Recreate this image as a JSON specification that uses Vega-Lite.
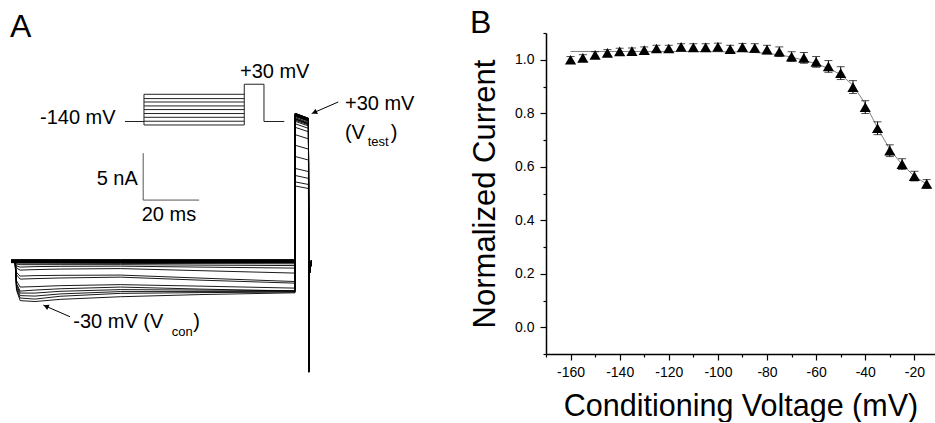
{
  "$schema": "https://vega.github.io/schema/vega-lite/v6.json",
  "background": "white",
  "padding": {"left": 0, "top": 7, "right": 0, "bottom": 0},
  "spacing": 216,
  "bounds": "flush",
  "config": {
    "view": {"stroke": null},
    "font": "Liberation Sans",
    "axis": {"grid": false, "domainColor": "black", "tickColor": "black", "labelColor": "black", "titleColor": "black", "titleFontWeight": "normal", "labelFont": "Liberation Sans", "titleFont": "Liberation Sans"}
  },
  "datasets": {
    "traces": [
      {"v": -160, "t": [0,1.4,1.9,3.2,8.5,17.5,39,67.5,101.5,101.55,106.3,106.45,106.55,107.4], "i": [0.25,0.25,0.25,0.25,0.25,0.25,0.25,0.25,0.25,15.11,14.61,-11.72,-1.4,0.2]},
      {"v": -155, "t": [0,1.4,1.9,3.2,8.5,17.5,39,67.5,101.5,101.55,106.3,106.45,106.55,107.4], "i": [0.22,0.22,0.22,0.22,0.22,0.22,0.22,0.22,0.22,15.22,14.71,-11.72,-1.4,0.2]},
      {"v": -150, "t": [0,1.4,1.9,3.2,8.5,17.5,39,67.5,101.5,101.55,106.3,106.45,106.55,107.4], "i": [0.2,0.2,0.2,0.2,0.2,0.2,0.2,0.2,0.2,15.38,14.87,-11.72,-1.4,0.2]},
      {"v": -145, "t": [0,1.4,1.9,3.2,8.5,17.5,39,67.5,101.5,101.55,106.3,106.45,106.55,107.4], "i": [0.18,0.18,0.18,0.18,0.18,0.18,0.18,0.18,0.18,15.5,14.99,-11.72,-1.4,0.2]},
      {"v": -140, "t": [0,1.4,1.9,3.2,8.5,17.5,39,67.5,101.5,101.55,106.3,106.45,106.55,107.4], "i": [0.15,0.15,0.15,0.15,0.15,0.15,0.15,0.15,0.15,15.58,15.06,-11.72,-1.4,0.2]},
      {"v": -135, "t": [0,1.4,1.9,3.2,8.5,17.5,39,67.5,101.5,101.55,106.3,106.45,106.55,107.4], "i": [0.13,0.13,0.13,0.13,0.13,0.13,0.13,0.13,0.13,15.59,15.08,-11.72,-1.4,0.2]},
      {"v": -130, "t": [0,1.4,1.9,3.2,8.5,17.5,39,67.5,101.5,101.55,106.3,106.45,106.55,107.4], "i": [0.1,0.1,0.1,0.1,0.1,0.1,0.1,0.1,0.1,15.65,15.14,-11.72,-1.4,0.2]},
      {"v": -125, "t": [0,1.4,1.9,3.2,8.5,17.5,39,67.5,101.5,101.55,106.3,106.45,106.55,107.4], "i": [0.08,0.08,0.08,0.08,0.08,0.08,0.08,0.08,0.08,15.74,15.22,-11.72,-1.4,0.2]},
      {"v": -120, "t": [0,1.4,1.9,3.2,8.5,17.5,39,67.5,101.5,101.55,106.3,106.45,106.55,107.4], "i": [0.06,0.06,0.06,0.06,0.06,0.06,0.06,0.06,0.06,15.74,15.22,-11.72,-1.4,0.2]},
      {"v": -115, "t": [0,1.4,1.9,3.2,8.5,17.5,39,67.5,101.5,101.55,106.3,106.45,106.55,107.4], "i": [0.05,0.05,0.05,0.05,0.05,0.05,0.05,0.05,0.05,15.84,15.31,-11.72,-1.4,0.2]},
      {"v": -110, "t": [0,1.4,1.9,3.2,8.5,17.5,39,67.5,101.5,101.55,106.3,106.45,106.55,107.4], "i": [0.03,0.03,0.03,0.03,0.03,0.03,0.03,0.03,0.03,15.8,15.28,-11.72,-1.4,0.2]},
      {"v": -105, "t": [0,1.4,1.9,3.2,8.5,17.5,39,67.5,101.5,101.55,106.3,106.45,106.55,107.4], "i": [0.02,0.02,0.02,0.02,0.02,0.02,0.02,0.02,0.02,15.8,15.28,-11.72,-1.4,0.2]},
      {"v": -100, "t": [0,1.4,1.9,3.2,8.5,17.5,39,67.5,101.5,101.55,106.3,106.45,106.55,107.4], "i": [0,0,0,0,0,0,0,0,0,15.84,15.31,-11.72,-1.4,0.2]},
      {"v": -95, "t": [0,1.4,1.9,3.2,8.5,17.5,39,67.5,101.5,101.55,106.3,106.45,106.55,107.4], "i": [0,0,0,0,0,0,0,0,0,15.71,15.19,-11.72,-1.4,0.2]},
      {"v": -90, "t": [0,1.4,1.9,3.2,8.5,17.5,39,67.5,101.5,101.55,106.3,106.45,106.55,107.4], "i": [-0.02,-0.02,-0.02,-0.02,-0.02,-0.02,-0.02,-0.02,-0.02,15.82,15.3,-11.72,-1.4,0.2]},
      {"v": -85, "t": [0,1.4,1.9,3.2,8.5,17.5,39,67.5,101.5,101.55,106.3,106.45,106.55,107.4], "i": [-0.03,-0.03,-0.03,-0.03,-0.03,-0.03,-0.03,-0.03,-0.03,15.77,15.25,-11.72,-1.4,0.2]},
      {"v": -80, "t": [0,1.4,1.9,3.2,8.5,17.5,39,67.5,101.5,101.55,106.3,106.45,106.55,107.4], "i": [-0.05,-0.05,-0.05,-0.05,-0.05,-0.05,-0.05,-0.05,-0.05,15.68,15.16,-11.72,-1.4,0.2]},
      {"v": -75, "t": [0,1.4,1.9,3.2,8.5,17.5,39,67.5,101.5,101.55,106.3,106.45,106.55,107.4], "i": [-0.07,-0.07,-0.07,-0.07,-0.07,-0.07,-0.07,-0.07,-0.07,15.56,15.05,-11.72,-1.4,0.2]},
      {"v": -70, "t": [0,1.4,1.9,3.2,8.5,17.5,39,67.5,101.5,101.55,106.3,106.45,106.55,107.4], "i": [0,0,-0.1,-0.12,-0.12,-0.13,-0.15,-0.17,-0.19,15.29,14.79,-11.72,-1.4,0.2]},
      {"v": -65, "t": [0,1.4,1.9,3.2,8.5,17.5,39,67.5,101.5,101.55,106.3,106.45,106.55,107.4], "i": [0,0,-0.22,-0.28,-0.28,-0.28,-0.28,-0.33,-0.38,15.22,14.71,-11.72,-1.4,0.2]},
      {"v": -60, "t": [0,1.4,1.9,3.2,8.5,17.5,39,67.5,101.5,101.55,106.3,106.45,106.55,107.4], "i": [0,0,-0.42,-0.54,-0.49,-0.46,-0.44,-0.54,-0.65,14.99,14.49,-11.72,-1.4,0.2]},
      {"v": -55, "t": [0,1.4,1.9,3.2,8.5,17.5,39,67.5,101.5,101.55,106.3,106.45,106.55,107.4], "i": [0,0,-0.65,-0.86,-0.81,-0.75,-0.7,-0.92,-1.18,14.73,14.24,-11.72,-1.4,0.2]},
      {"v": -50, "t": [0,1.4,1.9,3.2,8.5,17.5,39,67.5,101.5,101.55,106.3,106.45,106.55,107.4], "i": [0,0,-1.1,-1.5,-1.45,-1.42,-1.39,-1.71,-2.08,14.35,13.88,-11.72,-1.4,0.2]},
      {"v": -45, "t": [0,1.4,1.9,3.2,8.5,17.5,39,67.5,101.5,101.55,106.3,106.45,106.55,107.4], "i": [0,0,-1.35,-1.82,-1.77,-1.7,-1.61,-1.93,-2.25,13.57,13.12,-11.72,-1.4,0.2]},
      {"v": -40, "t": [0,1.4,1.9,3.2,8.5,17.5,39,67.5,101.5,101.55,106.3,106.45,106.55,107.4], "i": [0,0,-2.0,-2.67,-2.62,-2.52,-2.41,-2.57,-2.78,12.44,12.03,-11.72,-1.4,0.2]},
      {"v": -35, "t": [0,1.4,1.9,3.2,8.5,17.5,39,67.5,101.5,101.55,106.3,106.45,106.55,107.4], "i": [0,0,-2.3,-3.1,-2.99,-2.85,-2.67,-2.88,-3.1,11.24,10.87,-11.72,-1.4,0.2]},
      {"v": -30, "t": [0,1.4,1.9,3.2,8.5,17.5,39,67.5,101.5,101.55,106.3,106.45,106.55,107.4], "i": [0,0,-3.0,-4.11,-4.21,-3.98,-3.7,-3.47,-3.28,9.97,9.64,-11.72,-1.4,0.2]},
      {"v": -25, "t": [0,1.4,1.9,3.2,8.5,17.5,39,67.5,101.5,101.55,106.3,106.45,106.55,107.4], "i": [0,0,-2.85,-3.84,-3.95,-3.65,-3.34,-3.26,-3.2,9.22,8.91,-11.72,-1.4,0.2]},
      {"v": -20, "t": [0,1.4,1.9,3.2,8.5,17.5,39,67.5,101.5,101.55,106.3,106.45,106.55,107.4], "i": [0,0,-2.65,-3.58,-3.63,-3.4,-3.15,-3.15,-3.15,8.54,8.26,-11.72,-1.4,0.2]},
      {"v": -15, "t": [0,1.4,1.9,3.2,8.5,17.5,39,67.5,101.5,101.55,106.3,106.45,106.55,107.4], "i": [0,0,-2.45,-3.31,-3.31,-3.12,-2.94,-2.99,-3.04,8.1,7.83,-11.72,-1.4,0.2]}
    ],
    "protocol": [
      {"x": 40.69, "x2": 47.48, "y": 14.97, "y2": 14.97},
      {"x": 47.48, "x2": 83.34, "y": 17.87, "y2": 17.87},
      {"x": 47.48, "x2": 83.34, "y": 17.41, "y2": 17.41},
      {"x": 47.48, "x2": 83.34, "y": 17.05, "y2": 17.05},
      {"x": 47.48, "x2": 83.34, "y": 16.63, "y2": 16.63},
      {"x": 47.48, "x2": 83.34, "y": 16.24, "y2": 16.24},
      {"x": 47.48, "x2": 83.34, "y": 15.82, "y2": 15.82},
      {"x": 47.48, "x2": 83.34, "y": 15.42, "y2": 15.42},
      {"x": 47.48, "x2": 83.34, "y": 15.0, "y2": 15.0},
      {"x": 47.48, "x2": 83.34, "y": 14.6, "y2": 14.6},
      {"x": 47.48, "x2": 47.48, "y": 14.6, "y2": 17.87},
      {"x": 83.34, "x2": 83.34, "y": 14.6, "y2": 18.94},
      {"x": 83.34, "x2": 90.39, "y": 18.94, "y2": 18.94},
      {"x": 90.39, "x2": 90.39, "y": 18.94, "y2": 14.97},
      {"x": 90.39, "x2": 97.64, "y": 14.97, "y2": 14.97}
    ],
    "scalebar": [
      {"x": 47.2, "x2": 47.2, "y": 6.6, "y2": 11.6},
      {"x": 47.2, "x2": 67.2, "y": 6.6, "y2": 6.6}
    ],
    "arrows": [
      {"name": "con", "x": 21.03, "y": -5.83, "x2": 11.48, "y2": -4.59},
      {"name": "test", "x": 116.95, "y": 17.05, "x2": 107.44, "y2": 15.82}
    ],
    "heads": [
      {"name": "con", "x": 12.46, "y": -4.72},
      {"name": "test", "x": 108.42, "y": 15.94}
    ],
    "labelsA": [
      {"x": 10.3, "y": 14.68, "label": "-140 mV"},
      {"x": 81.8, "y": 19.65, "label": "+30 mV"},
      {"x": 30.57, "y": 8.19, "label": "5 nA"},
      {"x": 46.66, "y": 4.35, "label": "20 ms"},
      {"x": 119.35, "y": 16.24, "label": "+30 mV"},
      {"x": 119.35, "y": 13.13, "label": "(V"},
      {"x": 135.69, "y": 13.13, "label": ")"},
      {"x": 22.2, "y": -7.07, "label": "-30 mV (V"},
      {"x": 65.1, "y": -7.07, "label": ")"}
    ],
    "subsA": [
      {"x": 127.46, "y": 12.34, "label": "test"},
      {"x": 57.39, "y": -7.83, "label": "con"}
    ],
    "panelA": [{"x": -0.43, "y": 23.94, "label": "A"}],
    "points": [
      {"v": -160, "n": 1.0, "e": 0.012},
      {"v": -155, "n": 1.007, "e": 0.012},
      {"v": -150, "n": 1.018, "e": 0.012},
      {"v": -145, "n": 1.026, "e": 0.012},
      {"v": -140, "n": 1.031, "e": 0.012},
      {"v": -135, "n": 1.032, "e": 0.012},
      {"v": -130, "n": 1.036, "e": 0.012},
      {"v": -125, "n": 1.042, "e": 0.012},
      {"v": -120, "n": 1.042, "e": 0.012},
      {"v": -115, "n": 1.048, "e": 0.012},
      {"v": -110, "n": 1.046, "e": 0.014},
      {"v": -105, "n": 1.046, "e": 0.014},
      {"v": -100, "n": 1.048, "e": 0.014},
      {"v": -95, "n": 1.04, "e": 0.014},
      {"v": -90, "n": 1.047, "e": 0.014},
      {"v": -85, "n": 1.044, "e": 0.016},
      {"v": -80, "n": 1.038, "e": 0.016},
      {"v": -75, "n": 1.03, "e": 0.018},
      {"v": -70, "n": 1.012, "e": 0.018},
      {"v": -65, "n": 1.007, "e": 0.02},
      {"v": -60, "n": 0.992, "e": 0.02},
      {"v": -55, "n": 0.975, "e": 0.022},
      {"v": -50, "n": 0.95, "e": 0.024},
      {"v": -45, "n": 0.898, "e": 0.024},
      {"v": -40, "n": 0.823, "e": 0.024},
      {"v": -35, "n": 0.744, "e": 0.024},
      {"v": -30, "n": 0.66, "e": 0.022},
      {"v": -25, "n": 0.61, "e": 0.02},
      {"v": -20, "n": 0.565, "e": 0.018},
      {"v": -15, "n": 0.536, "e": 0.016}
    ],
    "fit": [
      {"v": -160, "n": 1.031}, {"v": -150, "n": 1.031}, {"v": -140, "n": 1.031},
      {"v": -130, "n": 1.031}, {"v": -120, "n": 1.031}, {"v": -110, "n": 1.031},
      {"v": -100, "n": 1.03}, {"v": -90, "n": 1.029}, {"v": -85, "n": 1.027},
      {"v": -80, "n": 1.024}, {"v": -75, "n": 1.018}, {"v": -70, "n": 1.01},
      {"v": -65, "n": 0.998}, {"v": -60, "n": 0.985}, {"v": -55, "n": 0.968},
      {"v": -50, "n": 0.945}, {"v": -45, "n": 0.905}, {"v": -40, "n": 0.835},
      {"v": -35, "n": 0.745}, {"v": -30, "n": 0.665}, {"v": -25, "n": 0.608},
      {"v": -20, "n": 0.565}, {"v": -15, "n": 0.535}
    ],
    "panelB": [{"v": -200.95, "n": 1.099, "label": "B"}]
  },
  "hconcat": [
    {
      "width": 330,
      "height": 321,
      "encoding": {
        "x": {"field": "x", "type": "quantitative", "scale": {"domain": [-4, 114], "nice": false, "zero": false}, "axis": null},
        "y": {"field": "y", "type": "quantitative", "scale": {"domain": [-9.8, 24.4], "nice": false, "zero": false}, "axis": null}
      },
      "layer": [
        {
          "data": {"name": "traces"},
          "transform": [{"flatten": ["t", "i"], "as": ["x", "y"]}],
          "mark": {"type": "line", "color": "black", "strokeWidth": 0.9},
          "encoding": {"detail": {"field": "v", "type": "nominal"}}
        },
        {
          "data": {"name": "protocol"},
          "mark": {"type": "rule", "color": "#222", "strokeWidth": 1},
          "encoding": {"x2": {"field": "x2"}, "y2": {"field": "y2"}}
        },
        {
          "data": {"name": "scalebar"},
          "mark": {"type": "rule", "color": "#555", "strokeWidth": 1},
          "encoding": {"x2": {"field": "x2"}, "y2": {"field": "y2"}}
        },
        {
          "data": {"name": "arrows"},
          "mark": {"type": "rule", "color": "black", "strokeWidth": 1},
          "encoding": {"x2": {"field": "x2"}, "y2": {"field": "y2"}}
        },
        {
          "data": {"name": "heads"},
          "transform": [{"filter": "datum.name == 'con'"}],
          "mark": {"type": "point", "shape": "triangle-up", "filled": true, "color": "black", "opacity": 1, "size": 35, "angle": 294}
        },
        {
          "data": {"name": "heads"},
          "transform": [{"filter": "datum.name == 'test'"}],
          "mark": {"type": "point", "shape": "triangle-up", "filled": true, "color": "black", "opacity": 1, "size": 35, "angle": 246}
        },
        {
          "data": {"name": "labelsA"},
          "mark": {"type": "text", "align": "left", "baseline": "alphabetic", "fontSize": 20, "color": "black"},
          "encoding": {"text": {"field": "label"}}
        },
        {
          "data": {"name": "subsA"},
          "mark": {"type": "text", "align": "left", "baseline": "alphabetic", "fontSize": 13, "color": "black"},
          "encoding": {"text": {"field": "label"}}
        },
        {
          "data": {"name": "panelA"},
          "mark": {"type": "text", "align": "left", "baseline": "alphabetic", "fontSize": 32, "color": "black"},
          "encoding": {"text": {"field": "label"}}
        }
      ]
    },
    {
      "width": 389,
      "height": 321,
      "encoding": {
        "x": {
          "field": "v", "type": "quantitative",
          "scale": {"domain": [-170, -11.6], "nice": false, "zero": false},
          "axis": {
            "title": "Conditioning Voltage (mV)",
            "values": [-170, -160, -150, -140, -130, -120, -110, -100, -90, -80, -70, -60, -50, -40, -30, -20],
            "labelExpr": "datum.value % 20 == 0 ? '' + datum.value : ''",
            "tickSize": {"condition": {"test": "datum.value % 20 != 0", "value": 3}, "value": 6},
            "tickWidth": 1.2, "domainWidth": 1.5,
            "labelFontSize": 14, "labelPadding": 5, "labelFlush": false, "labelOverlap": false,
            "titleFontSize": 30.5, "titlePadding": 12
          }
        },
        "y": {
          "field": "n", "type": "quantitative",
          "scale": {"domain": [-0.1, 1.1], "nice": false, "zero": false},
          "axis": {
            "title": "Normalized Current",
            "values": [-0.1, 0, 0.1, 0.2, 0.3, 0.4, 0.5, 0.6, 0.7, 0.8, 0.9, 1.0, 1.1],
            "labelExpr": "(abs(datum.value * 5 - round(datum.value * 5)) < 0.001 && datum.value >= 0) ? format(datum.value, '.1f') : ''",
            "tickSize": {"condition": {"test": "abs(datum.value * 5 - round(datum.value * 5)) > 0.001", "value": 3}, "value": 6},
            "tickWidth": 1.2, "domainWidth": 1.5,
            "labelFontSize": 14, "labelPadding": 6, "labelFlush": false, "labelOverlap": false,
            "titleFontSize": 31, "titlePadding": 13
          }
        }
      },
      "layer": [
        {
          "data": {"name": "fit"},
          "mark": {"type": "line", "color": "#808080", "strokeWidth": 1}
        },
        {
          "data": {"name": "points"},
          "mark": {"type": "errorbar", "ticks": {"size": 8, "color": "black"}, "rule": {"color": "black", "strokeWidth": 1}},
          "encoding": {"yError": {"field": "e"}}
        },
        {
          "data": {"name": "points"},
          "mark": {"type": "point", "shape": "triangle-up", "filled": true, "color": "black", "opacity": 1, "size": 125}
        },
        {
          "data": {"name": "panelB"},
          "mark": {"type": "text", "align": "left", "baseline": "alphabetic", "fontSize": 32, "color": "black"},
          "encoding": {"text": {"field": "label"}}
        }
      ]
    }
  ]
}
